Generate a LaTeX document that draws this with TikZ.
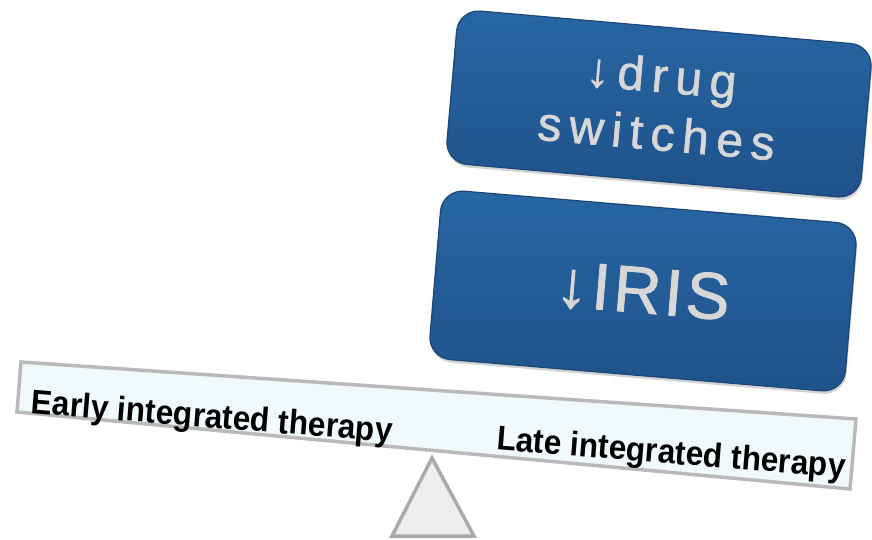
\documentclass[tikz,border=0pt]{standalone}
\usepackage{fontspec}
\setmainfont{Liberation Sans}
\newfontfamily\boxfont[LetterSpace=16,FakeBold=1.2]{Liberation Sans}
\newfontfamily\irisfont[LetterSpace=5,FakeBold=1.2]{Liberation Sans}
\usetikzlibrary{shadows}
\definecolor{beamfill}{RGB}{240,249,251}
\definecolor{beamline}{RGB}{185,185,185}
\definecolor{fulcfill}{RGB}{238,238,238}
\definecolor{fulcline}{RGB}{170,170,170}
\definecolor{boxtop}{RGB}{39,102,164}
\definecolor{boxbot}{RGB}{31,82,138}
\definecolor{boxline}{RGB}{28,70,120}
\definecolor{silver}{RGB}{215,215,215}
\begin{document}
\begin{tikzpicture}[x=1pt,y=-1pt,
  bluebox/.style={rounded corners=22pt, top color=boxtop, bottom color=boxbot,
    draw=boxline, line width=1.2pt,
    drop shadow={shadow xshift=1pt, shadow yshift=-3pt, opacity=0.35},
    text=silver, align=center, inner sep=0pt},
  beamtext/.style={font=\bfseries\fontsize{31}{34}\selectfont, text=black,
    rotate=-4.6, inner sep=0pt}
]
\useasboundingbox (0,0) rectangle (872,539);
% fulcrum
\coordinate (apex) at (432,458);
\coordinate (bl) at (392,536);
\coordinate (br) at (474,536);
\draw[fill=fulcfill, draw=fulcline, line width=3.5pt] (apex) -- (br) -- (bl) -- cycle;
% beam
\coordinate (b1) at (21,362);
\coordinate (b2) at (856,419);
\coordinate (b3) at (850,489);
\coordinate (b4) at (17,412);
\draw[fill=beamfill, draw=beamline, line width=3.5pt] (b1) -- (b2) -- (b3) -- (b4) -- cycle;
\node[beamtext] (early) at (212,419) {\scalebox{1.02}[1.1]{Early integrated therapy}};
\node[beamtext] (late) at (671,455) {\scalebox{1.02}[1.1]{Late integrated therapy}};
% boxes
\node[bluebox, minimum width=416pt, minimum height=154pt, rotate=-5,
  font=\boxfont\fontsize{48}{58}\selectfont] (drug) at (659,104) {↓drug\\switches};
\node[bluebox, minimum width=417pt, minimum height=169pt, rotate=-4.8,
  font=\irisfont\fontsize{66}{70}\selectfont] (iris) at (643,291) {↓IRIS};
\end{tikzpicture}
\end{document}
